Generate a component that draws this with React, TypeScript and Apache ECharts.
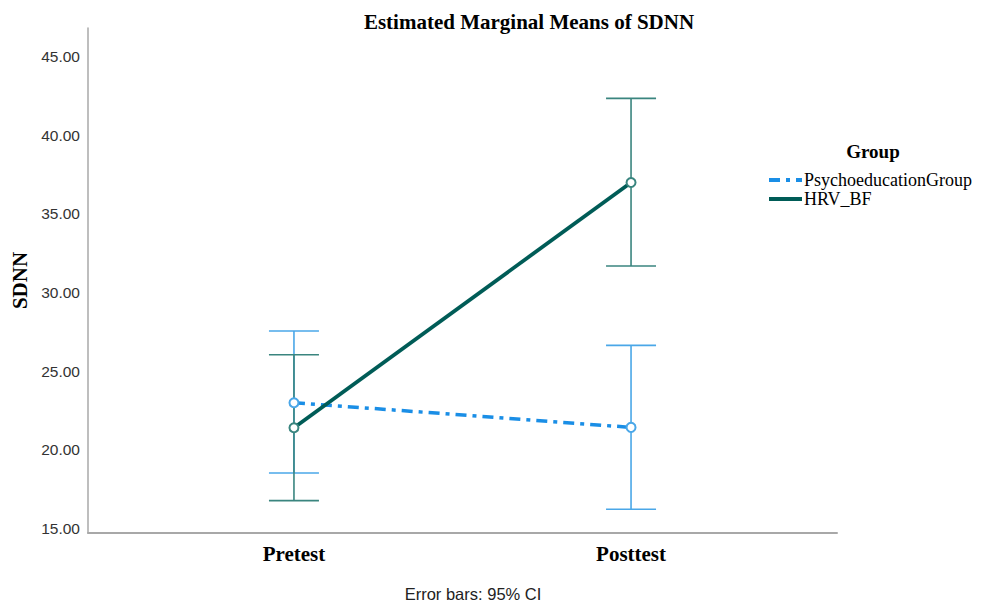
import React, { useEffect, useRef } from "react";
import * as echarts from "echarts";

const timepoints = ["Pretest", "Posttest"];
const groups = ["PsychoeducationGroup", "HRV_BF"];
const psychoMean = [22.99, 21.42];
const psychoLower = [18.52, 16.21];
const psychoUpper = [27.55, 26.64];
const hrvMean = [21.4, 37.0];
const hrvLower = [16.76, 31.69];
const hrvUpper = [26.04, 42.35];
const yTicks = [15, 20, 25, 30, 35, 40, 45];

const PSY = "#1a8ee6";
const PSY_ERR = "#4aa7e8";
const HRV = "#005c57";
const HRV_ERR = "#3a857f";

function errBar(color: string) {
  return (params: any, api: any) => {
    const x = api.value(0);
    const lo = api.coord([x, api.value(1)]);
    const hi = api.coord([x, api.value(2)]);
    const hw = 25;
    const style = { stroke: color, lineWidth: 1.6 };
    return {
      type: "group",
      children: [
        { type: "line", shape: { x1: lo[0], y1: lo[1], x2: hi[0], y2: hi[1] }, style },
        { type: "line", shape: { x1: lo[0] - hw, y1: lo[1], x2: lo[0] + hw, y2: lo[1] }, style },
        { type: "line", shape: { x1: hi[0] - hw, y1: hi[1], x2: hi[0] + hw, y2: hi[1] }, style },
      ],
    };
  };
}

export default function App() {
  const ref = useRef<HTMLDivElement>(null);
  useEffect(() => {
    const chart = echarts.init(ref.current!, null, { renderer: "svg" });
    const serif = "'Liberation Serif', 'Times New Roman', serif";
    const sans = "'Liberation Sans', Arial, sans-serif";
    chart.setOption({
      animation: false,
      backgroundColor: "#fff",
      title: [
        {
          text: "Estimated Marginal Means of SDNN",
          left: 524,
          top: 6,
          textAlign: "center",
          textStyle: { fontFamily: serif, fontWeight: "bold", fontSize: 21, color: "#000" },
        },
        {
          text: "Group",
          left: 868,
          top: 137,
          textAlign: "center",
          textStyle: { fontFamily: serif, fontWeight: "bold", fontSize: 19, color: "#000" },
        },
        {
          text: "Error bars: 95% CI",
          left: 468,
          top: 580,
          textAlign: "center",
          textStyle: { fontFamily: sans, fontWeight: "normal", fontSize: 16.5, color: "#222" },
        },
      ],
      legend: {
        left: 762,
        top: 166,
        orient: "vertical",
        itemWidth: 33,
        itemHeight: 10,
        itemGap: 1,
        itemStyle: { opacity: 0 },
        lineStyle: { width: 4 },
        textStyle: { fontFamily: serif, fontSize: 18, color: "#000", padding: [0, 0, 0, -3] },
        data: groups,
      },
      grid: { left: 88, right: 147, top: 28, bottom: 69 },
      xAxis: {
        type: "value",
        min: -0.611,
        max: 1.611,
        splitLine: { show: false },
        axisLine: { show: true, onZero: false, lineStyle: { color: "#a8a8a8", width: 2 } },
        axisTick: { show: false },
        axisLabel: {
          customValues: [0, 1],
          formatter: (v: number) => timepoints[Math.round(v)],
          fontFamily: serif,
          fontWeight: "bold",
          fontSize: 21,
          color: "#000",
          margin: 10,
        },
      },
      yAxis: {
        type: "value",
        min: 14.7,
        max: 46.83,
        name: "SDNN",
        nameLocation: "middle",
        nameGap: 52,
        nameTextStyle: { fontFamily: serif, fontWeight: "bold", fontSize: 21, color: "#000" },
        splitLine: { show: false },
        axisLine: { show: true, onZero: false, lineStyle: { color: "#a8a8a8", width: 1.5 } },
        axisTick: { show: false },
        axisLabel: {
          customValues: yTicks,
          formatter: (v: number) => v.toFixed(2),
          fontFamily: sans,
          fontSize: 15.5,
          color: "#333",
          margin: 8,
        },
      },
      series: [
        {
          type: "custom",
          name: "psyErr",
          renderItem: errBar(PSY_ERR),
          data: timepoints.map((_, i) => [i, psychoLower[i], psychoUpper[i]]),
          z: 1,
          silent: true,
        },
        {
          type: "custom",
          name: "hrvErr",
          renderItem: errBar(HRV_ERR),
          data: timepoints.map((_, i) => [i, hrvLower[i], hrvUpper[i]]),
          z: 2,
          silent: true,
        },
        {
          type: "line",
          name: groups[0],
          data: timepoints.map((_, i) => [i, psychoMean[i]]),
          symbol: "emptyCircle",
          symbolSize: 9,
          lineStyle: { color: PSY, width: 3.5, type: [11, 6, 4, 6] },
          itemStyle: { color: PSY_ERR, borderColor: PSY_ERR, borderWidth: 1.3 },
          z: 3,
        },
        {
          type: "line",
          name: groups[1],
          data: timepoints.map((_, i) => [i, hrvMean[i]]),
          symbol: "emptyCircle",
          symbolSize: 9,
          lineStyle: { color: HRV, width: 3.8 },
          itemStyle: { color: HRV_ERR, borderColor: HRV_ERR, borderWidth: 1.3 },
          z: 4,
        },
      ],
    });
    return () => chart.dispose();
  }, []);
  return (
    <div
      ref={ref}
      style={{ position: "fixed", left: 0, top: 0, width: 984, height: 602 }}
    />
  );
}
